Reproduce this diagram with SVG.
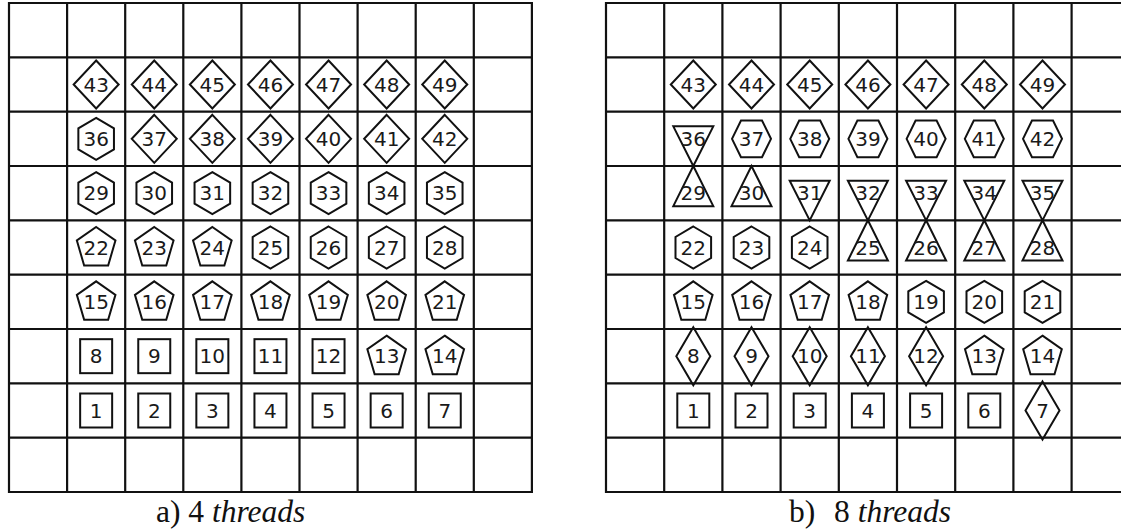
<svg xmlns="http://www.w3.org/2000/svg" xmlns:xlink="http://www.w3.org/1999/xlink" width="1121" height="530" viewBox="0 0 1121 530">
<style>
.grid{fill:none;stroke:#111;stroke-width:2.2;stroke-linecap:square}
.s{fill:none;stroke:#111;stroke-width:2;stroke-linejoin:miter}
.n{font-family:"DejaVu Sans",sans-serif;font-size:20px;fill:#1a1a1a;text-anchor:middle}
.cap{font-family:"Liberation Serif","Times New Roman",serif;font-size:31.5px;fill:#111}
.it{font-style:italic}
</style>
<defs>
<rect id="sq" class="s" x="-16" y="-17" width="32" height="34"/>
<polygon id="dia" class="s" points="0,-24 22.5,0 0,24 -22.5,0"/>
<polygon id="tdia" class="s" points="0,-29 17,0 0,29 -17,0"/>
<polygon id="hexP" class="s" points="0,-21 17.8,-10.5 17.8,10.5 0,21 -17.8,10.5 -17.8,-10.5"/>
<polygon id="hexF" class="s" points="-19.5,0 -10.5,-18.3 10.5,-18.3 19.5,0 10.5,18.3 -10.5,18.3"/>
<polygon id="pent" class="s" points="0,-20.5 19.3,-7 12,18 -12,18 -19.3,-7"/>
<polygon id="triD" class="s" points="-20,-12.5 20,-12.5 0,27.2"/>
<polygon id="triU" class="s" points="0,-27.2 20,13 -20,13"/>
</defs>
<rect width="1121" height="530" fill="#fff"/>
<g id="connectors">
<path class="grid" d="M9,3V492M67.1,3V492M125.2,3V492M183.3,3V492M241.4,3V492M299.5,3V492M357.6,3V492M415.7,3V492M473.8,3V492M531.9,3V492M9,3H531.9M9,57.33H531.9M9,111.67H531.9M9,166H531.9M9,220.33H531.9M9,274.67H531.9M9,329H531.9M9,383.33H531.9M9,437.67H531.9M9,492H531.9"/>
<path class="grid" d="M606,3V492M664.2,3V492M722.4,3V492M780.6,3V492M838.8,3V492M897,3V492M955.2,3V492M1013.4,3V492M1071.6,3V492M606,3H1125M606,57.33H1125M606,111.67H1125M606,166H1125M606,220.33H1125M606,274.67H1125M606,329H1125M606,383.33H1125M606,437.67H1125M606,492H1125"/>
</g>
<g id="grid-a">
<g id="a1"><use xlink:href="#sq" x="96.15" y="410.5"/><text class="n" x="96.15" y="417.8">1</text></g>
<g id="a2"><use xlink:href="#sq" x="154.25" y="410.5"/><text class="n" x="154.25" y="417.8">2</text></g>
<g id="a3"><use xlink:href="#sq" x="212.35" y="410.5"/><text class="n" x="212.35" y="417.8">3</text></g>
<g id="a4"><use xlink:href="#sq" x="270.45" y="410.5"/><text class="n" x="270.45" y="417.8">4</text></g>
<g id="a5"><use xlink:href="#sq" x="328.55" y="410.5"/><text class="n" x="328.55" y="417.8">5</text></g>
<g id="a6"><use xlink:href="#sq" x="386.65" y="410.5"/><text class="n" x="386.65" y="417.8">6</text></g>
<g id="a7"><use xlink:href="#sq" x="444.75" y="410.5"/><text class="n" x="444.75" y="417.8">7</text></g>
<g id="a8"><use xlink:href="#sq" x="96.15" y="356.17"/><text class="n" x="96.15" y="363.47">8</text></g>
<g id="a9"><use xlink:href="#sq" x="154.25" y="356.17"/><text class="n" x="154.25" y="363.47">9</text></g>
<g id="a10"><use xlink:href="#sq" x="212.35" y="356.17"/><text class="n" x="212.35" y="363.47">10</text></g>
<g id="a11"><use xlink:href="#sq" x="270.45" y="356.17"/><text class="n" x="270.45" y="363.47">11</text></g>
<g id="a12"><use xlink:href="#sq" x="328.55" y="356.17"/><text class="n" x="328.55" y="363.47">12</text></g>
<g id="a13"><use xlink:href="#pent" x="386.65" y="356.17"/><text class="n" x="386.65" y="363.47">13</text></g>
<g id="a14"><use xlink:href="#pent" x="444.75" y="356.17"/><text class="n" x="444.75" y="363.47">14</text></g>
<g id="a15"><use xlink:href="#pent" x="96.15" y="301.83"/><text class="n" x="96.15" y="309.13">15</text></g>
<g id="a16"><use xlink:href="#pent" x="154.25" y="301.83"/><text class="n" x="154.25" y="309.13">16</text></g>
<g id="a17"><use xlink:href="#pent" x="212.35" y="301.83"/><text class="n" x="212.35" y="309.13">17</text></g>
<g id="a18"><use xlink:href="#pent" x="270.45" y="301.83"/><text class="n" x="270.45" y="309.13">18</text></g>
<g id="a19"><use xlink:href="#pent" x="328.55" y="301.83"/><text class="n" x="328.55" y="309.13">19</text></g>
<g id="a20"><use xlink:href="#pent" x="386.65" y="301.83"/><text class="n" x="386.65" y="309.13">20</text></g>
<g id="a21"><use xlink:href="#pent" x="444.75" y="301.83"/><text class="n" x="444.75" y="309.13">21</text></g>
<g id="a22"><use xlink:href="#pent" x="96.15" y="247.5"/><text class="n" x="96.15" y="254.8">22</text></g>
<g id="a23"><use xlink:href="#pent" x="154.25" y="247.5"/><text class="n" x="154.25" y="254.8">23</text></g>
<g id="a24"><use xlink:href="#pent" x="212.35" y="247.5"/><text class="n" x="212.35" y="254.8">24</text></g>
<g id="a25"><use xlink:href="#hexP" x="270.45" y="247.5"/><text class="n" x="270.45" y="254.8">25</text></g>
<g id="a26"><use xlink:href="#hexP" x="328.55" y="247.5"/><text class="n" x="328.55" y="254.8">26</text></g>
<g id="a27"><use xlink:href="#hexP" x="386.65" y="247.5"/><text class="n" x="386.65" y="254.8">27</text></g>
<g id="a28"><use xlink:href="#hexP" x="444.75" y="247.5"/><text class="n" x="444.75" y="254.8">28</text></g>
<g id="a29"><use xlink:href="#hexP" x="96.15" y="193.17"/><text class="n" x="96.15" y="200.47">29</text></g>
<g id="a30"><use xlink:href="#hexP" x="154.25" y="193.17"/><text class="n" x="154.25" y="200.47">30</text></g>
<g id="a31"><use xlink:href="#hexP" x="212.35" y="193.17"/><text class="n" x="212.35" y="200.47">31</text></g>
<g id="a32"><use xlink:href="#hexP" x="270.45" y="193.17"/><text class="n" x="270.45" y="200.47">32</text></g>
<g id="a33"><use xlink:href="#hexP" x="328.55" y="193.17"/><text class="n" x="328.55" y="200.47">33</text></g>
<g id="a34"><use xlink:href="#hexP" x="386.65" y="193.17"/><text class="n" x="386.65" y="200.47">34</text></g>
<g id="a35"><use xlink:href="#hexP" x="444.75" y="193.17"/><text class="n" x="444.75" y="200.47">35</text></g>
<g id="a36"><use xlink:href="#hexP" x="96.15" y="138.83"/><text class="n" x="96.15" y="146.13">36</text></g>
<g id="a37"><use xlink:href="#dia" x="154.25" y="138.83"/><text class="n" x="154.25" y="146.13">37</text></g>
<g id="a38"><use xlink:href="#dia" x="212.35" y="138.83"/><text class="n" x="212.35" y="146.13">38</text></g>
<g id="a39"><use xlink:href="#dia" x="270.45" y="138.83"/><text class="n" x="270.45" y="146.13">39</text></g>
<g id="a40"><use xlink:href="#dia" x="328.55" y="138.83"/><text class="n" x="328.55" y="146.13">40</text></g>
<g id="a41"><use xlink:href="#dia" x="386.65" y="138.83"/><text class="n" x="386.65" y="146.13">41</text></g>
<g id="a42"><use xlink:href="#dia" x="444.75" y="138.83"/><text class="n" x="444.75" y="146.13">42</text></g>
<g id="a43"><use xlink:href="#dia" x="96.15" y="84.5"/><text class="n" x="96.15" y="91.8">43</text></g>
<g id="a44"><use xlink:href="#dia" x="154.25" y="84.5"/><text class="n" x="154.25" y="91.8">44</text></g>
<g id="a45"><use xlink:href="#dia" x="212.35" y="84.5"/><text class="n" x="212.35" y="91.8">45</text></g>
<g id="a46"><use xlink:href="#dia" x="270.45" y="84.5"/><text class="n" x="270.45" y="91.8">46</text></g>
<g id="a47"><use xlink:href="#dia" x="328.55" y="84.5"/><text class="n" x="328.55" y="91.8">47</text></g>
<g id="a48"><use xlink:href="#dia" x="386.65" y="84.5"/><text class="n" x="386.65" y="91.8">48</text></g>
<g id="a49"><use xlink:href="#dia" x="444.75" y="84.5"/><text class="n" x="444.75" y="91.8">49</text></g>
</g>
<g id="grid-b">
<g id="b1"><use xlink:href="#sq" x="693.3" y="410.5"/><text class="n" x="693.3" y="417.8">1</text></g>
<g id="b2"><use xlink:href="#sq" x="751.5" y="410.5"/><text class="n" x="751.5" y="417.8">2</text></g>
<g id="b3"><use xlink:href="#sq" x="809.7" y="410.5"/><text class="n" x="809.7" y="417.8">3</text></g>
<g id="b4"><use xlink:href="#sq" x="867.9" y="410.5"/><text class="n" x="867.9" y="417.8">4</text></g>
<g id="b5"><use xlink:href="#sq" x="926.1" y="410.5"/><text class="n" x="926.1" y="417.8">5</text></g>
<g id="b6"><use xlink:href="#sq" x="984.3" y="410.5"/><text class="n" x="984.3" y="417.8">6</text></g>
<g id="b7"><use xlink:href="#tdia" x="1042.5" y="410.5"/><text class="n" x="1042.5" y="417.8">7</text></g>
<g id="b8"><use xlink:href="#tdia" x="693.3" y="356.17"/><text class="n" x="693.3" y="363.47">8</text></g>
<g id="b9"><use xlink:href="#tdia" x="751.5" y="356.17"/><text class="n" x="751.5" y="363.47">9</text></g>
<g id="b10"><use xlink:href="#tdia" x="809.7" y="356.17"/><text class="n" x="809.7" y="363.47">10</text></g>
<g id="b11"><use xlink:href="#tdia" x="867.9" y="356.17"/><text class="n" x="867.9" y="363.47">11</text></g>
<g id="b12"><use xlink:href="#tdia" x="926.1" y="356.17"/><text class="n" x="926.1" y="363.47">12</text></g>
<g id="b13"><use xlink:href="#pent" x="984.3" y="356.17"/><text class="n" x="984.3" y="363.47">13</text></g>
<g id="b14"><use xlink:href="#pent" x="1042.5" y="356.17"/><text class="n" x="1042.5" y="363.47">14</text></g>
<g id="b15"><use xlink:href="#pent" x="693.3" y="301.83"/><text class="n" x="693.3" y="309.13">15</text></g>
<g id="b16"><use xlink:href="#pent" x="751.5" y="301.83"/><text class="n" x="751.5" y="309.13">16</text></g>
<g id="b17"><use xlink:href="#pent" x="809.7" y="301.83"/><text class="n" x="809.7" y="309.13">17</text></g>
<g id="b18"><use xlink:href="#pent" x="867.9" y="301.83"/><text class="n" x="867.9" y="309.13">18</text></g>
<g id="b19"><use xlink:href="#hexP" x="926.1" y="301.83"/><text class="n" x="926.1" y="309.13">19</text></g>
<g id="b20"><use xlink:href="#hexP" x="984.3" y="301.83"/><text class="n" x="984.3" y="309.13">20</text></g>
<g id="b21"><use xlink:href="#hexP" x="1042.5" y="301.83"/><text class="n" x="1042.5" y="309.13">21</text></g>
<g id="b22"><use xlink:href="#hexP" x="693.3" y="247.5"/><text class="n" x="693.3" y="254.8">22</text></g>
<g id="b23"><use xlink:href="#hexP" x="751.5" y="247.5"/><text class="n" x="751.5" y="254.8">23</text></g>
<g id="b24"><use xlink:href="#hexP" x="809.7" y="247.5"/><text class="n" x="809.7" y="254.8">24</text></g>
<g id="b25"><use xlink:href="#triU" x="867.9" y="247.5"/><text class="n" x="867.9" y="254.8">25</text></g>
<g id="b26"><use xlink:href="#triU" x="926.1" y="247.5"/><text class="n" x="926.1" y="254.8">26</text></g>
<g id="b27"><use xlink:href="#triU" x="984.3" y="247.5"/><text class="n" x="984.3" y="254.8">27</text></g>
<g id="b28"><use xlink:href="#triU" x="1042.5" y="247.5"/><text class="n" x="1042.5" y="254.8">28</text></g>
<g id="b29"><use xlink:href="#triU" x="693.3" y="193.17"/><text class="n" x="693.3" y="200.47">29</text></g>
<g id="b30"><use xlink:href="#triU" x="751.5" y="193.17"/><text class="n" x="751.5" y="200.47">30</text></g>
<g id="b31"><use xlink:href="#triD" x="809.7" y="193.17"/><text class="n" x="809.7" y="200.47">31</text></g>
<g id="b32"><use xlink:href="#triD" x="867.9" y="193.17"/><text class="n" x="867.9" y="200.47">32</text></g>
<g id="b33"><use xlink:href="#triD" x="926.1" y="193.17"/><text class="n" x="926.1" y="200.47">33</text></g>
<g id="b34"><use xlink:href="#triD" x="984.3" y="193.17"/><text class="n" x="984.3" y="200.47">34</text></g>
<g id="b35"><use xlink:href="#triD" x="1042.5" y="193.17"/><text class="n" x="1042.5" y="200.47">35</text></g>
<g id="b36"><use xlink:href="#triD" x="693.3" y="138.83"/><text class="n" x="693.3" y="146.13">36</text></g>
<g id="b37"><use xlink:href="#hexF" x="751.5" y="138.83"/><text class="n" x="751.5" y="146.13">37</text></g>
<g id="b38"><use xlink:href="#hexF" x="809.7" y="138.83"/><text class="n" x="809.7" y="146.13">38</text></g>
<g id="b39"><use xlink:href="#hexF" x="867.9" y="138.83"/><text class="n" x="867.9" y="146.13">39</text></g>
<g id="b40"><use xlink:href="#hexF" x="926.1" y="138.83"/><text class="n" x="926.1" y="146.13">40</text></g>
<g id="b41"><use xlink:href="#hexF" x="984.3" y="138.83"/><text class="n" x="984.3" y="146.13">41</text></g>
<g id="b42"><use xlink:href="#hexF" x="1042.5" y="138.83"/><text class="n" x="1042.5" y="146.13">42</text></g>
<g id="b43"><use xlink:href="#dia" x="693.3" y="84.5"/><text class="n" x="693.3" y="91.8">43</text></g>
<g id="b44"><use xlink:href="#dia" x="751.5" y="84.5"/><text class="n" x="751.5" y="91.8">44</text></g>
<g id="b45"><use xlink:href="#dia" x="809.7" y="84.5"/><text class="n" x="809.7" y="91.8">45</text></g>
<g id="b46"><use xlink:href="#dia" x="867.9" y="84.5"/><text class="n" x="867.9" y="91.8">46</text></g>
<g id="b47"><use xlink:href="#dia" x="926.1" y="84.5"/><text class="n" x="926.1" y="91.8">47</text></g>
<g id="b48"><use xlink:href="#dia" x="984.3" y="84.5"/><text class="n" x="984.3" y="91.8">48</text></g>
<g id="b49"><use xlink:href="#dia" x="1042.5" y="84.5"/><text class="n" x="1042.5" y="91.8">49</text></g>
</g>
<g id="captions">
<text class="cap" x="156" y="522">a) 4 <tspan class="it">threads</tspan></text>
<text class="cap" x="789" y="522">b)<tspan x="834">8 </tspan><tspan class="it">threads</tspan></text>
</g>
</svg>
